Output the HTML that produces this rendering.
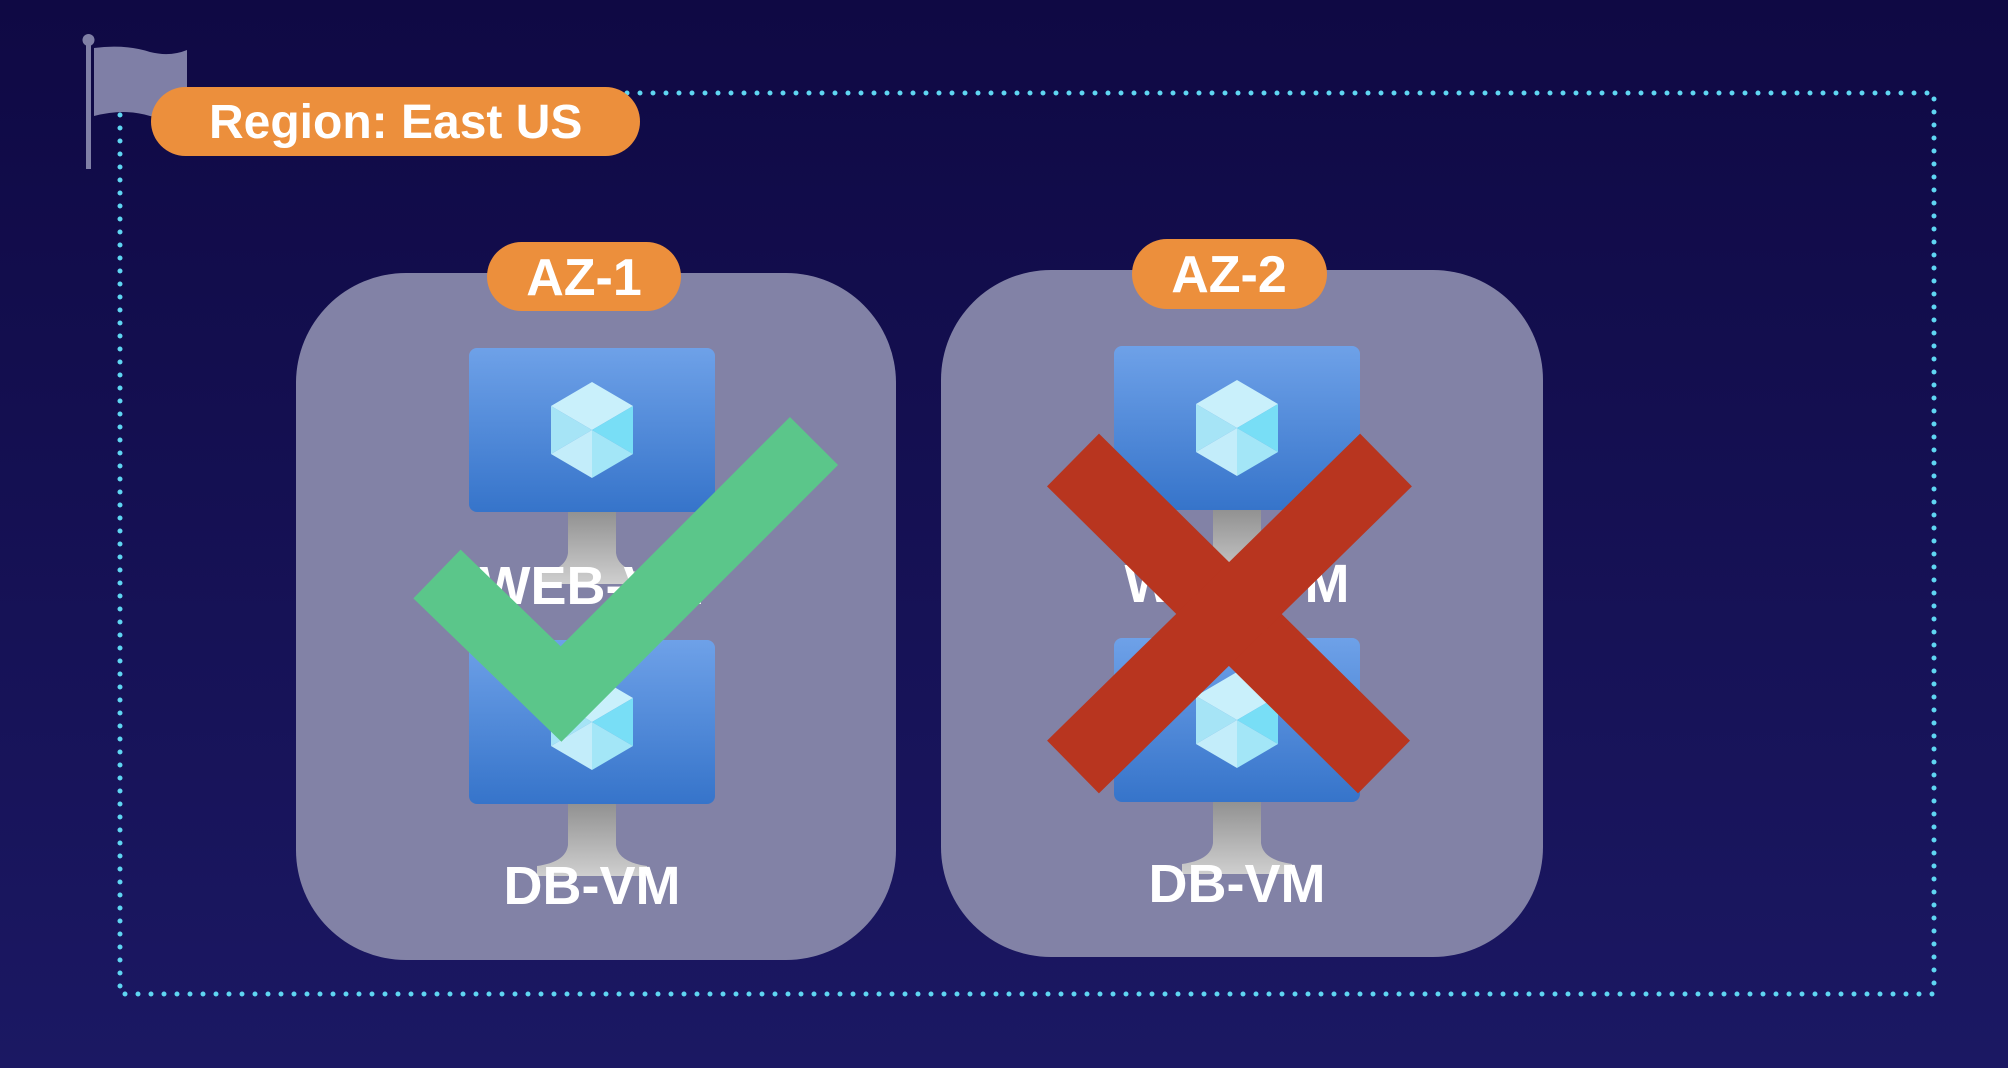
<!DOCTYPE html>
<html><head><meta charset="utf-8"><style>
html,body{margin:0;padding:0;width:2008px;height:1068px;overflow:hidden;background:#110b48}
svg{display:block}
text{font-family:"Liberation Sans",sans-serif;font-weight:bold;fill:#fff}
</style></head><body>
<svg width="2008" height="1068" viewBox="0 0 2008 1068" xmlns="http://www.w3.org/2000/svg">
<defs>
<linearGradient id="bg" x1="0" y1="0" x2="0" y2="1"><stop offset="0" stop-color="#0f0944"/><stop offset="1" stop-color="#1b1863"/></linearGradient>
<linearGradient id="mon" x1="0" y1="0" x2="0" y2="1"><stop offset="0" stop-color="#6ea1e8"/><stop offset="1" stop-color="#3674ca"/></linearGradient>
<linearGradient id="st" x1="0" y1="0" x2="0" y2="1"><stop offset="0" stop-color="#8e8e8e"/><stop offset="1" stop-color="#cfcfcf"/></linearGradient>
<g id="cube">
<polygon points="0,-48 41,-24 0,0 -41,-24" fill="#c9f0fb"/>
<polygon points="-41,-24 0,0 -41,24" fill="#a6e4f6"/>
<polygon points="41,-24 41,24 0,0" fill="#78def6"/>
<polygon points="-41,24 0,0 0,48" fill="#c3edfa"/>
<polygon points="0,0 41,24 0,48" fill="#a3e6f7"/>
</g>
<g id="vm">
<path d="M-24,160 L24,160 L24,205 Q26,222 55,226 L55,236 L-55,236 L-55,226 Q-26,222 -24,205 Z" fill="url(#st)"/>
<rect x="-123" y="0" width="246" height="164" rx="8" fill="url(#mon)"/>
<use href="#cube" x="0" y="82"/>
</g>
</defs>
<rect width="2008" height="1068" fill="url(#bg)"/>
<rect x="120" y="93" width="1814" height="901" fill="none" stroke="#5fd6f2" stroke-width="5" stroke-linecap="round" stroke-dasharray="0 13"/>
<rect x="296" y="273" width="600" height="687" rx="110" fill="#8282a6"/>
<rect x="941" y="270" width="602" height="687" rx="110" fill="#8282a6"/>
<rect x="86" y="40" width="5" height="129" fill="#8080a6"/>
<circle cx="88.5" cy="40" r="6" fill="#8080a6"/>
<path d="M94,48 Q125,44 150,52 Q170,57 187,50 L187,114 Q170,121 150,116 Q125,108 94,116 Z" fill="#7f7fa6"/>
<rect x="151" y="87" width="489" height="69" rx="34.5" fill="#ec8f3c"/>
<text x="209" y="138" font-size="48">Region: East US</text>
<rect x="487" y="242" width="194" height="69" rx="34.5" fill="#ec8f3c"/>
<text x="584" y="295" font-size="52" text-anchor="middle">AZ-1</text>
<rect x="1132" y="239" width="195" height="70" rx="35" fill="#ec8f3c"/>
<text x="1229" y="292" font-size="52" text-anchor="middle">AZ-2</text>
<use href="#vm" x="592" y="348"/>
<text x="592" y="604" font-size="54" text-anchor="middle">WEB-VM</text>
<use href="#vm" x="592" y="640"/>
<text x="592" y="904" font-size="54" text-anchor="middle">DB-VM</text>
<use href="#vm" x="1237" y="346"/>
<text x="1237" y="602" font-size="54" text-anchor="middle">WEB-VM</text>
<use href="#vm" x="1237" y="638"/>
<text x="1237" y="902" font-size="54" text-anchor="middle">DB-VM</text>
<polyline points="437,574 561,694 814,441" fill="none" stroke="#5bc68a" stroke-width="68" stroke-linejoin="miter" stroke-miterlimit="10"/>
<line x1="1073" y1="460" x2="1384" y2="767" stroke="#b8351f" stroke-width="74"/>
<line x1="1386" y1="460" x2="1073" y2="767" stroke="#b8351f" stroke-width="74"/>
</svg>
</body></html>
